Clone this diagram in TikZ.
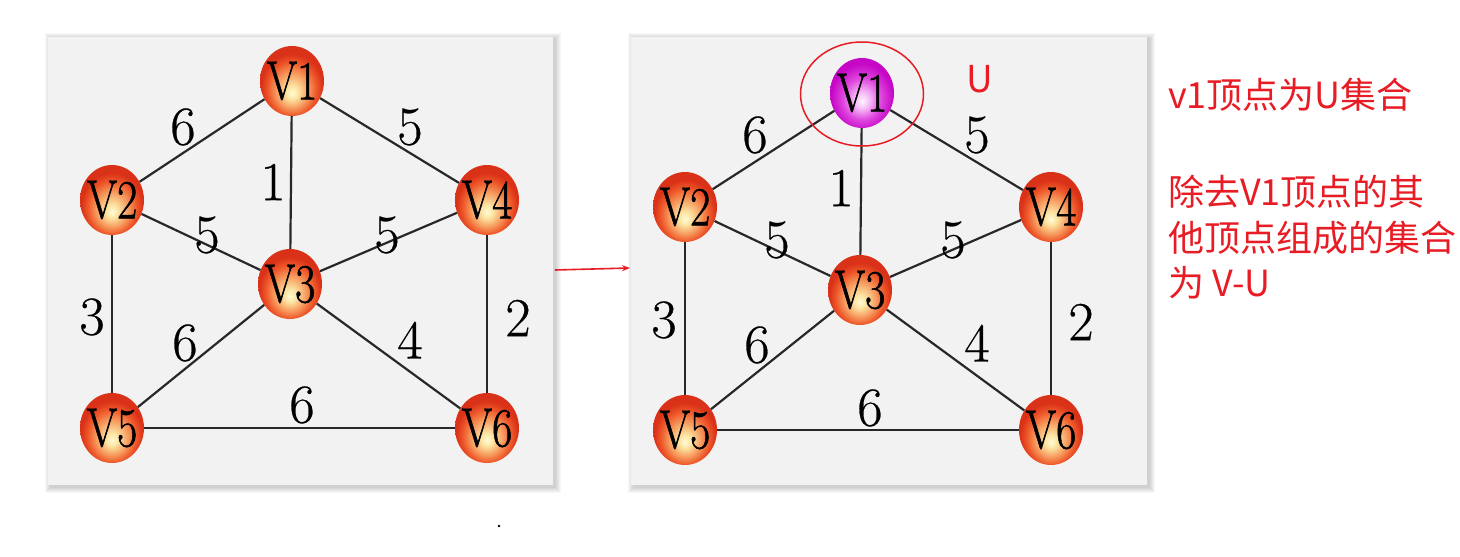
\documentclass[tikz,border=0pt]{standalone}
\usepackage{fontspec}
\usepackage{graphicx}
\usetikzlibrary{shapes.geometric,arrows.meta}
\newfontfamily\cjk{Noto Sans CJK SC}
\newfontfamily\lmheavy[FakeBold=1.2]{Latin Modern Roman}
\newfontfamily\lmmid[FakeBold=0.5]{Latin Modern Roman}
\definecolor{panelbg}{RGB}{242,242,242}
\definecolor{edgecol}{RGB}{40,40,40}
\definecolor{notered}{RGB}{232,28,36}
\definecolor{oc0}{RGB}{255,252,212}
\definecolor{oc1}{RGB}{252,226,160}
\definecolor{oc2}{RGB}{246,150,90}
\definecolor{oc3}{RGB}{238,88,42}
\definecolor{oc4}{RGB}{218,50,24}
\definecolor{pc0}{RGB}{255,245,255}
\definecolor{pc1}{RGB}{246,185,246}
\definecolor{pc2}{RGB}{222,70,222}
\definecolor{pc3}{RGB}{198,8,198}
\pgfdeclareradialshading{orangeball}{\pgfpoint{0bp}{-9bp}}{color(0bp)=(oc0); color(5bp)=(oc1); color(13bp)=(oc2); color(19bp)=(oc3); color(24bp)=(oc4); color(50bp)=(oc4)}
\pgfdeclareradialshading{purpleball}{\pgfpoint{0bp}{-6bp}}{color(0bp)=(pc0); color(6bp)=(pc1); color(15bp)=(pc2); color(24bp)=(pc3); color(50bp)=(pc3)}
\tikzset{
  ball/.style={ellipse, minimum width=64pt, minimum height=70pt, inner sep=0pt, shading=orangeball},
  pball/.style={ellipse, minimum width=64pt, minimum height=70pt, inner sep=0pt, shading=purpleball},
  vlbl/.style={inner sep=0pt, font=\lmheavy\fontsize{55}{60}\selectfont},
  wlbl/.style={inner sep=0pt, font=\lmmid\fontsize{55}{60}\selectfont, text=black},
  edge/.style={draw=edgecol, line width=2.2pt},
  note/.style={inner sep=0pt, anchor=west, text=notered, font=\cjk\fontsize{36}{44}\selectfont},
}
\newcommand{\vname}[1]{\scalebox{0.8}[1]{#1}}
\newcommand{\panelshadow}[4]{%
  \foreach \i in {1,...,6}{\fill[black, opacity=0.03] (#1-\i+2.5,#2-\i+1.5) rectangle (#3+\i+1.5,#4+\i+1.5);}%
  \fill[panelbg] (#1,#2) rectangle (#3,#4);}
\begin{document}
\begin{tikzpicture}[x=1pt,y=-1pt]
\useasboundingbox (0,0) rectangle (1460,557);
\fill[white] (0,0) rectangle (1460,557);
% panels
\panelshadow{48}{37}{553}{485}
\panelshadow{631}{37}{1147}{485}

% ---------- left graph ----------
\node[ball, label={[vlbl]center:\vname{V1}}] (a1) at (292,81) {};
\node[ball, label={[vlbl]center:\vname{V2}}] (a2) at (112,200) {};
\node[ball, label={[vlbl]center:\vname{V3}}] (a3) at (290,284) {};
\node[ball, label={[vlbl]center:\vname{V4}}] (a4) at (487,200) {};
\node[ball, label={[vlbl]center:\vname{V5}}] (a5) at (112,428) {};
\node[ball, label={[vlbl]center:\vname{V6}}] (a6) at (487,428) {};
\path[edge] (a1) -- (a2);
\path[edge] (a1) -- (a4);
\path[edge] (a1) -- (a3);
\path[edge] (a2) -- (a3);
\path[edge] (a4) -- (a3);
\path[edge] (a2) -- (a5);
\path[edge] (a4) -- (a6);
\path[edge] (a3) -- (a5);
\path[edge] (a3) -- (a6);
\path[edge] (a5) -- (a6);
\node[wlbl] (la12) at (183,127) {6};
\node[wlbl] (la14) at (410,127) {5};
\node[wlbl] (la13) at (273,182) {1};
\node[wlbl] (la23) at (207,235) {5};
\node[wlbl] (la34) at (387,235) {5};
\node[wlbl] (la25) at (92,317) {3};
\node[wlbl] (la46) at (518,318) {2};
\node[wlbl] (la35) at (185,343) {6};
\node[wlbl] (la36) at (410,340) {4};
\node[wlbl] (la56) at (302,405) {6};

% ---------- right graph ----------
\node[pball, label={[vlbl]center:\vname{V1}}] (b1) at (862,93) {};
\node[ball, label={[vlbl]center:\vname{V2}}] (b2) at (685,207) {};
\node[ball, label={[vlbl]center:\vname{V3}}] (b3) at (860,290) {};
\node[ball, label={[vlbl]center:\vname{V4}}] (b4) at (1051,207) {};
\node[ball, label={[vlbl]center:\vname{V5}}] (b5) at (685,430) {};
\node[ball, label={[vlbl]center:\vname{V6}}] (b6) at (1051,430) {};
\path[edge] (b1) -- (b2);
\path[edge] (b1) -- (b4);
\path[edge] (b1) -- (b3);
\path[edge] (b2) -- (b3);
\path[edge] (b4) -- (b3);
\path[edge] (b2) -- (b5);
\path[edge] (b4) -- (b6);
\path[edge] (b3) -- (b5);
\path[edge] (b3) -- (b6);
\path[edge] (b5) -- (b6);
\node[wlbl] (lb12) at (755,135) {6};
\node[wlbl] (lb14) at (977,135) {5};
\node[wlbl] (lb13) at (841,188) {1};
\node[wlbl] (lb23) at (777,240) {5};
\node[wlbl] (lb34) at (953,240) {5};
\node[wlbl] (lb25) at (664,320) {3};
\node[wlbl] (lb46) at (1081,322) {2};
\node[wlbl] (lb35) at (757,345) {6};
\node[wlbl] (lb36) at (977,343) {4};
\node[wlbl] (lb56) at (870,408) {6};

% highlight of U
\node[draw=notered, line width=1.5pt, ellipse, minimum width=123pt, minimum height=104pt, inner sep=0pt] (hl) at (862,94) {};
\node[inner sep=0pt, text=notered, font=\cjk\fontsize{37}{40}\selectfont] (uset) at (980,79) {U};

% arrow between panels
\coordinate (arrS) at (555,270);
\coordinate (arrE) at (630,268);
\draw[notered, line width=1.6pt, -{Stealth[length=8pt,width=6pt]}] (arrS) -- (arrE);

% notes
\node[note] (n1) at (1168,95) {v1顶点为U集合};
\node[note] (n2) at (1168,192) {除去V1顶点的其};
\node[note] (n3) at (1168,238) {他顶点组成的集合};
\node[note] (n4) at (1168,283) {为 V-U};

% stray dot
\fill[black] (499,526) circle (1.3pt);
\end{tikzpicture}
\end{document}
